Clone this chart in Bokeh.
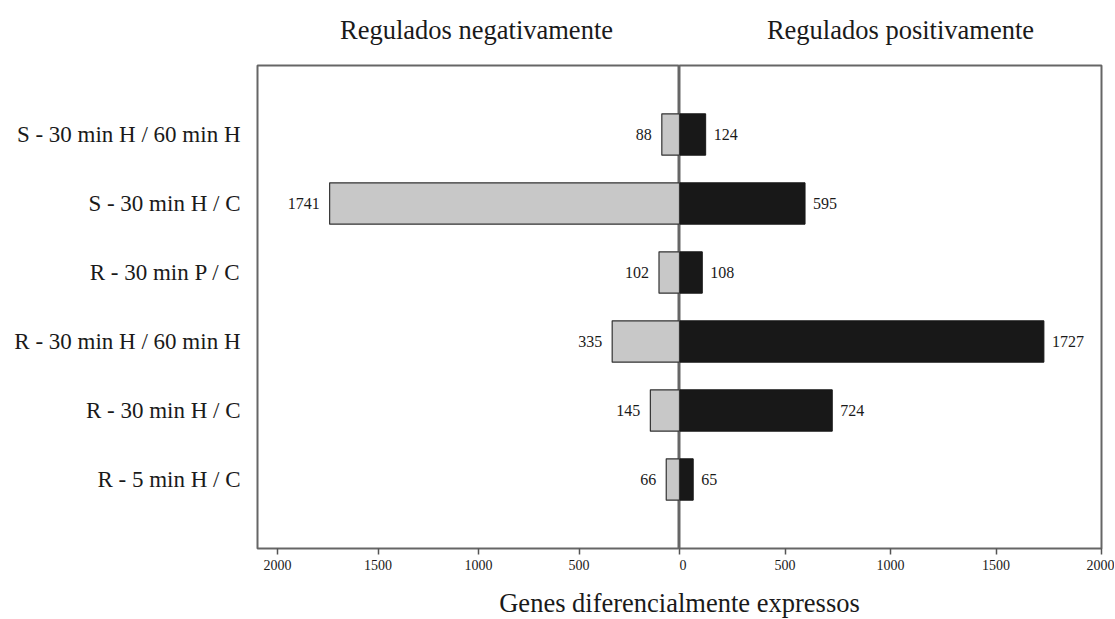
from bokeh.plotting import figure
from bokeh.models import Range1d, FixedTicker, ColumnDataSource
from bokeh.layouts import column, row
from bokeh.core.properties import value
from bokeh.embed import file_html
from bokeh.resources import INLINE

# ---------------- data ----------------
categories = [
    "R - 5 min H / C",
    "R - 30 min H / C",
    "R - 30 min H / 60 min H",
    "R - 30 min P / C",
    "S - 30 min H / C",
    "S - 30 min H / 60 min H",
]
down_regulated = [66, 145, 335, 102, 1741, 88]
up_regulated = [65, 724, 1727, 108, 595, 124]
left_ticks = [-2000, -1500, -1000, -500, 0]
right_ticks = [0, 500, 1000, 1500, 2000]
panel_titles = ["Regulados negativamente", "Regulados positivamente"]
x_label = "Genes diferencialmente expressos"

FONT = "Liberation Serif"
TXT = "#1a1a1a"
FRAME = "#666666"

ypos = list(range(1, len(categories) + 1))
src = ColumnDataSource(dict(
    y=ypos,
    neg=[-v for v in down_regulated],
    neg_lbl=[str(v) for v in down_regulated],
    pos=up_regulated,
    pos_lbl=[str(v) for v in up_regulated],
))


def style(p, ticks, skip_zero=False):
    p.xgrid.visible = False
    p.ygrid.visible = False
    p.outline_line_color = FRAME
    p.outline_line_width = 2
    p.background_fill_color = "white"
    p.border_fill_color = "white"
    ax = p.xaxis[0]
    ax.ticker = FixedTicker(ticks=ticks)
    ax.major_label_overrides = {t: ("" if (skip_zero and t == 0) else str(abs(t))) for t in ticks}
    ax.axis_line_color = None
    ax.major_tick_in = 0
    ax.major_tick_out = 6
    ax.major_tick_line_color = "#555555"
    ax.major_tick_line_width = 1.5
    ax.minor_tick_line_color = None
    ax.major_label_standoff = 5
    ax.major_label_text_font = FONT
    ax.major_label_text_font_size = "14px"
    ax.major_label_text_color = TXT


def strip_fig(height):
    s = figure(width=1106, height=height, x_range=Range1d(-1, 1), y_range=Range1d(0, 1),
               output_backend="svg", toolbar_location=None,
               x_axis_location=None, y_axis_location=None,
               min_border_left=257, min_border_right=5, min_border_top=0, min_border_bottom=0)
    s.xgrid.visible = False
    s.ygrid.visible = False
    s.outline_line_color = None
    s.background_fill_color = "white"
    s.border_fill_color = "white"
    return s


# ---------------- panel titles ----------------
top = strip_fig(63)
top.text(x=[-0.5, 0.5], y=[0.53, 0.53], text=panel_titles, x_offset=[8, 10],
         text_align="center", text_baseline="middle",
         text_font=value(FONT), text_font_size="26.5px", text_color=TXT)

# ---------------- left panel (down-regulated) ----------------
left = figure(width=679, height=515, x_range=Range1d(-2100, 0), y_range=Range1d(0, 7),
              output_backend="svg", toolbar_location=None,
              min_border_left=257, min_border_right=0, min_border_top=2, min_border_bottom=30)
style(left, left_ticks, skip_zero=True)
yax = left.yaxis[0]
yax.ticker = FixedTicker(ticks=ypos)
yax.major_label_overrides = {y: c for y, c in zip(ypos, categories)}
yax.axis_line_color = None
yax.major_tick_line_color = None
yax.major_tick_in = 0
yax.major_tick_out = 0
yax.minor_tick_line_color = None
yax.major_label_standoff = 17
yax.major_label_text_font = FONT
yax.major_label_text_font_size = "23px"
yax.major_label_text_color = TXT

left.hbar(y="y", left="neg", right=0, height=0.6, source=src,
          fill_color="#c8c8c8", line_color="#333333", line_width=1.2)
left.text(x="neg", y="y", text="neg_lbl", source=src, text_align="right",
          text_baseline="middle", x_offset=-10, text_font=value(FONT),
          text_font_size="16px", text_color=TXT)

# ---------------- right panel (up-regulated) ----------------
right = figure(width=435, height=515, x_range=Range1d(0, 2000), y_range=Range1d(0, 7),
               output_backend="svg", toolbar_location=None, y_axis_location=None,
               min_border_left=0, min_border_right=13, min_border_top=2, min_border_bottom=30)
style(right, right_ticks)

right.hbar(y="y", left=0, right="pos", height=0.6, source=src,
           fill_color="#181818", line_color="#181818", line_width=1)
right.text(x="pos", y="y", text="pos_lbl", source=src, text_align="left",
           text_baseline="middle", x_offset=8, text_font=value(FONT),
           text_font_size="16px", text_color=TXT)

# ---------------- shared x-axis title ----------------
bottom = strip_fig(41)
bottom.text(x=[0], y=[0.4], text=[x_label], text_align="center", text_baseline="middle",
            text_font=value(FONT), text_font_size="26.5px", text_color=TXT)

layout = column(top, row(left, right), bottom)

with open("out.html", "w") as f:
    f.write(file_html(layout, INLINE))
